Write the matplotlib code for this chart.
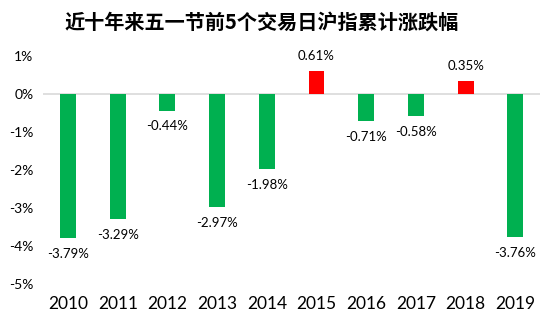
import matplotlib
matplotlib.use("Agg")
import matplotlib.pyplot as plt
from matplotlib.ticker import FuncFormatter

plt.rcParams['font.family'] = ['Noto Sans CJK SC', 'DejaVu Sans']

years = ['2010', '2011', '2012', '2013', '2014', '2015', '2016', '2017', '2018', '2019']
values = [-3.79, -3.29, -0.44, -2.97, -1.98, 0.61, -0.71, -0.58, 0.35, -3.76]
title = '近十年来五一节前5个交易日沪指累计涨跌幅'

NUMFONT = ['Lato', 'DejaVu Sans']

fig = plt.figure(figsize=(5.54, 3.31), dpi=100)
ax = fig.add_axes([0.078, 0.142, 0.897, 0.689])

colors = ['#FF0000' if v > 0 else '#00B050' for v in values]
x = list(range(len(years)))
ax.bar(x, values, width=0.32, color=colors, zorder=3)
ax.axhline(0, color='#D9D9D9', lw=1.2, zorder=2)

for xi, v in zip(x, values):
    if v < 0:
        ax.annotate(f'{v:.2f}%', (xi, v), xytext=(0, -7), textcoords='offset points',
                    ha='center', va='top', fontsize=9.5, family=NUMFONT)
    else:
        ax.annotate(f'{v:.2f}%', (xi, v), xytext=(0, 6), textcoords='offset points',
                    ha='center', va='bottom', fontsize=9.5, family=NUMFONT)

ax.set_xlim(-0.5, len(years) - 0.5)
ax.set_ylim(-5, 1)
ax.set_yticks(range(-5, 2))
ax.yaxis.set_major_formatter(FuncFormatter(lambda v, p: f'{int(v)}%'))
ax.set_xticks(x)
ax.set_xticklabels(years)
for s in ax.spines.values():
    s.set_visible(False)
ax.tick_params(axis='both', length=0)
ax.tick_params(axis='y', labelsize=10, pad=7)
ax.tick_params(axis='x', labelsize=12.5, pad=9)
for lab in ax.get_yticklabels() + ax.get_xticklabels():
    lab.set_family(NUMFONT)

fig.text(0.472, 0.932, title, ha='center', va='center', fontsize=14.5, fontweight='bold')

fig.savefig('out.png', dpi=100)
